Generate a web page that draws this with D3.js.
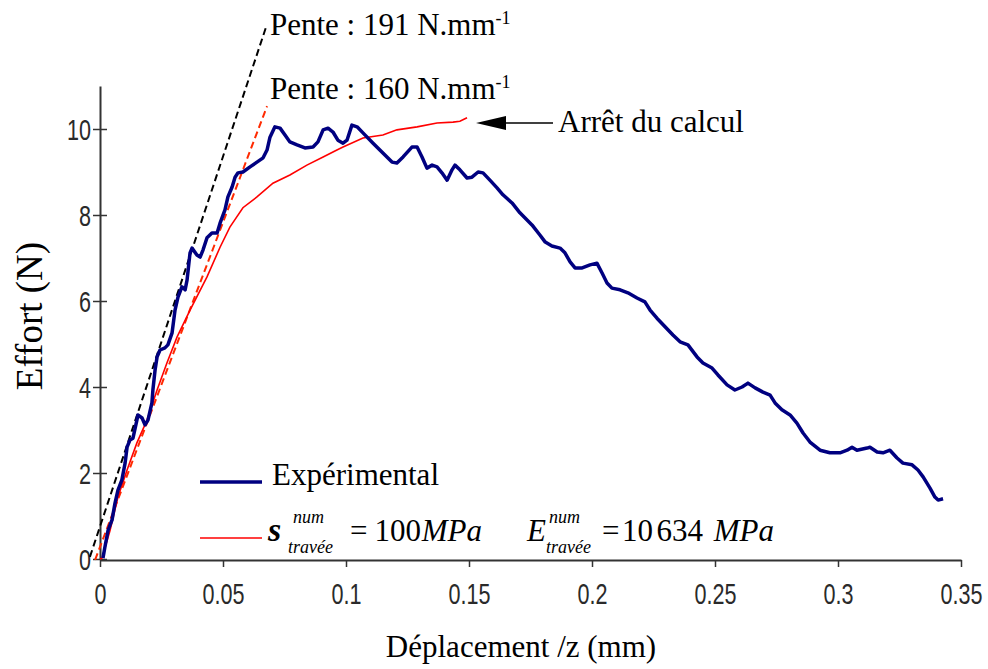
<!DOCTYPE html>
<html><head><meta charset="utf-8">
<script src="https://cdn.jsdelivr.net/npm/d3@7"></script>
<style>
body{margin:0;background:#fff;}
svg{display:block;}
.tk text{font-family:"Liberation Sans",Arial,sans-serif;font-size:30px;fill:#2a2a2a;}
.serif{font-family:"Liberation Serif","Times New Roman",Times,serif;fill:#000;}
</style></head>
<body>
<script>
// ---- data ----
const xTicks = [0, 0.05, 0.1, 0.15, 0.2, 0.25, 0.3, 0.35];
const xTickLabels = ["0", "0.05", "0.1", "0.15", "0.2", "0.25", "0.3", "0.35"];
const yTicks = [0, 2, 4, 6, 8, 10];
const yTickLabels = ["0", "2", "4", "6", "8", "10"];

// Expérimental (displacement mm, force N)
const expX = [0.0012,0.002,0.0033,0.0049,0.0061,0.0073,0.0089,0.0102,0.011,0.0122,0.0134,0.015,0.0154,0.0171,0.0183,0.0195,0.0211,0.0215,0.0224,0.0232,0.0244,0.0264,0.0276,0.0293,0.0305,0.0317,0.0333,0.0346,0.0354,0.0366,0.0374,0.0394,0.0407,0.0419,0.0435,0.0455,0.0476,0.0488,0.0508,0.052,0.0537,0.0549,0.0561,0.0581,0.061,0.0638,0.0663,0.0679,0.0691,0.0711,0.0732,0.0752,0.0772,0.0801,0.0833,0.0866,0.0886,0.0907,0.0927,0.0947,0.0967,0.0988,0.1004,0.1024,0.1045,0.1069,0.111,0.115,0.1187,0.1207,0.1232,0.1268,0.1289,0.1309,0.1329,0.135,0.137,0.139,0.1411,0.1431,0.1443,0.1463,0.1492,0.1512,0.1537,0.1557,0.1585,0.1614,0.1638,0.1675,0.1707,0.1756,0.1789,0.181,0.1837,0.187,0.189,0.1911,0.1931,0.196,0.1992,0.202,0.2041,0.2061,0.2081,0.2114,0.2146,0.2183,0.2215,0.2236,0.2264,0.2297,0.2329,0.2358,0.239,0.2427,0.2451,0.2488,0.2512,0.2549,0.2581,0.261,0.2634,0.2663,0.2695,0.2724,0.2744,0.2772,0.2805,0.2833,0.2858,0.2886,0.2927,0.2967,0.3008,0.3037,0.3057,0.3077,0.3118,0.313,0.3159,0.3183,0.3211,0.324,0.3264,0.3301,0.3325,0.3346,0.3374,0.3394,0.3407,0.3427];
const expY = [0.02,0.28,0.67,0.91,1.30,1.60,1.84,2.23,2.60,2.77,2.81,3.23,3.35,3.28,3.12,3.23,3.63,3.93,4.40,4.70,4.86,4.91,4.98,5.26,5.79,6.09,6.33,6.26,6.49,7.12,7.23,7.07,7.02,7.19,7.47,7.58,7.58,7.81,8.12,8.42,8.65,8.88,8.98,9.00,9.12,9.23,9.33,9.51,9.81,10.05,10.02,9.86,9.70,9.63,9.56,9.58,9.70,9.98,10.02,9.93,9.74,9.67,9.74,10.09,10.05,9.91,9.67,9.44,9.23,9.21,9.35,9.58,9.58,9.35,9.09,9.16,9.12,8.98,8.81,9.05,9.16,9.05,8.86,8.88,9.00,8.98,8.81,8.63,8.47,8.28,8.05,7.77,7.53,7.37,7.28,7.23,7.12,6.91,6.77,6.77,6.84,6.88,6.65,6.42,6.30,6.26,6.19,6.07,5.98,5.79,5.60,5.40,5.21,5.05,4.98,4.70,4.56,4.44,4.28,4.05,3.93,4.00,4.09,3.98,3.88,3.81,3.63,3.47,3.35,3.16,2.93,2.72,2.53,2.47,2.47,2.53,2.60,2.53,2.58,2.60,2.49,2.47,2.53,2.35,2.23,2.19,2.07,1.91,1.65,1.44,1.37,1.40];

// Numerical: sigma = 100 MPa, E = 10634 MPa
const numX = [0,0.0008,0.0041,0.0073,0.011,0.015,0.0191,0.0232,0.0272,0.0313,0.0366,0.0435,0.0488,0.0528,0.0581,0.0638,0.0703,0.0772,0.0841,0.0907,0.0963,0.0988,0.1069,0.115,0.1207,0.1289,0.137,0.1435,0.1463,0.1492];
const numY = [0,0.02,0.67,1.44,2.07,2.70,3.23,3.93,4.56,5.16,5.79,6.56,7.25,7.72,8.17,8.42,8.74,8.93,9.16,9.35,9.51,9.58,9.79,9.86,9.98,10.05,10.14,10.16,10.18,10.26];

// Slope lines (two end points each)
const slope191X = [-0.0041, 0.0675];
const slope191Y = [0.05, 12.37];
const slope160X = [-0.002, 0.0679];
const slope160Y = [-0.02, 10.53];

// ---- drawing ----
const W = 988, H = 669;
const svg = d3.select("body").append("svg").attr("width", W).attr("height", H);
const x = d3.scaleLinear().domain([0, 0.35]).range([100, 961]);
const y = d3.scaleLinear().domain([0, 11]).range([559, 86]);
const SX = 0.72; // condensed tick font

// axes
const gx = svg.append("g").attr("class","tk").attr("transform","translate(0,560)")
  .call(d3.axisBottom(x).tickValues(xTicks).tickFormat((d,i)=>xTickLabels[i]).tickSizeInner(7).tickSizeOuter(0).tickPadding(16));
gx.select(".domain").attr("stroke","#333").attr("stroke-width",2);
gx.selectAll(".tick line").attr("stroke","#333").attr("stroke-width",1.5);
gx.selectAll(".tick text").attr("transform",`scale(${SX},1)`);

const gy = svg.append("g").attr("class","tk").attr("transform","translate(100,0)")
  .call(d3.axisLeft(y).tickValues(yTicks).tickFormat((d,i)=>yTickLabels[i]).tickSizeInner(7).tickSizeOuter(0).tickPadding(2));
gy.select(".domain").attr("stroke","#333").attr("stroke-width",2);
gy.selectAll(".tick line").attr("stroke","#333").attr("stroke-width",1.5).attr("x1",7);
gy.selectAll(".tick text").attr("x",-9/SX).attr("dy","0.36em").attr("transform",`scale(${SX},1)`);

const line = d3.line().x(d=>x(d[0])).y(d=>y(d[1]));

// slope lines
svg.append("path").datum(slope191X.map((v,i)=>[v,slope191Y[i]]))
  .attr("d",line).attr("fill","none").attr("stroke","#000").attr("stroke-width",2).attr("stroke-dasharray","7,4");
svg.append("path").datum(slope160X.map((v,i)=>[v,slope160Y[i]]))
  .attr("d",line).attr("fill","none").attr("stroke","#ff2a00").attr("stroke-width",2).attr("stroke-dasharray","7,4");

// numerical curve
svg.append("path").datum(numX.map((v,i)=>[v,numY[i]]))
  .attr("d",line).attr("fill","none").attr("stroke","#ff0000").attr("stroke-width",1.6);

// experimental curve
svg.append("path").datum(expX.map((v,i)=>[v,expY[i]]))
  .attr("d",line).attr("fill","none").attr("stroke","#000080").attr("stroke-width",3.5).attr("stroke-linejoin","round");

// axis titles
svg.append("text").attr("class","serif").attr("x",521).attr("y",657).attr("text-anchor","middle")
  .attr("font-size",31).text("Déplacement /z (mm)");
svg.append("text").attr("class","serif").attr("transform","translate(42,316) rotate(-90)").attr("text-anchor","middle")
  .attr("font-size",37).text("Effort (N)");

// slope annotations
function pente(yb, txt){
  const t = svg.append("text").attr("class","serif").attr("x",270).attr("y",yb).attr("font-size",31);
  t.append("tspan").text(txt);
  t.append("tspan").attr("font-size",18).attr("dy",-11).text("-1");
}
pente(35, "Pente : 191 N.mm");
pente(99, "Pente : 160 N.mm");

// Arrêt du calcul
svg.append("text").attr("class","serif").attr("x",558).attr("y",132).attr("font-size",31).text("Arrêt du calcul");
svg.append("line").attr("x1",503).attr("x2",553).attr("y1",123).attr("y2",123).attr("stroke","#000").attr("stroke-width",1.5);
svg.append("path").attr("d","M476,123 L506,116 L506,130 Z").attr("fill","#000");

// legend
svg.append("line").attr("x1",200).attr("x2",262).attr("y1",482).attr("y2",482).attr("stroke","#000080").attr("stroke-width",3.5);
svg.append("text").attr("class","serif").attr("x",272).attr("y",485).attr("font-size",31).text("Expérimental");
svg.append("line").attr("x1",200).attr("x2",262).attr("y1",538).attr("y2",538).attr("stroke","#ff0000").attr("stroke-width",1.6);

function txt(xx, yy, s, size, style, weight, anchor){
  svg.append("text").attr("class","serif").attr("x",xx).attr("y",yy).attr("font-size",size)
    .attr("font-style",style||"normal").attr("font-weight",weight||"normal")
    .attr("text-anchor",anchor||"start").text(s);
}
txt(268, 541, "s", 34, "italic", "bold");
txt(293, 523, "num", 18, "italic");
txt(288, 553, "travée", 18, "italic");
txt(350, 541, "=", 31);
txt(421, 541, "100", 31, "normal", "normal", "end");
txt(482, 541, "MPa", 31, "italic", "normal", "end");
txt(527, 541, "E", 31, "italic");
txt(549, 523, "num", 18, "italic");
txt(546, 553, "travée", 18, "italic");
txt(602, 541, "=", 31);
txt(622, 541, "10", 31);
txt(703, 541, "634", 31, "normal", "normal", "end");
txt(774, 541, "MPa", 31, "italic", "normal", "end");
</script>
</body></html>
